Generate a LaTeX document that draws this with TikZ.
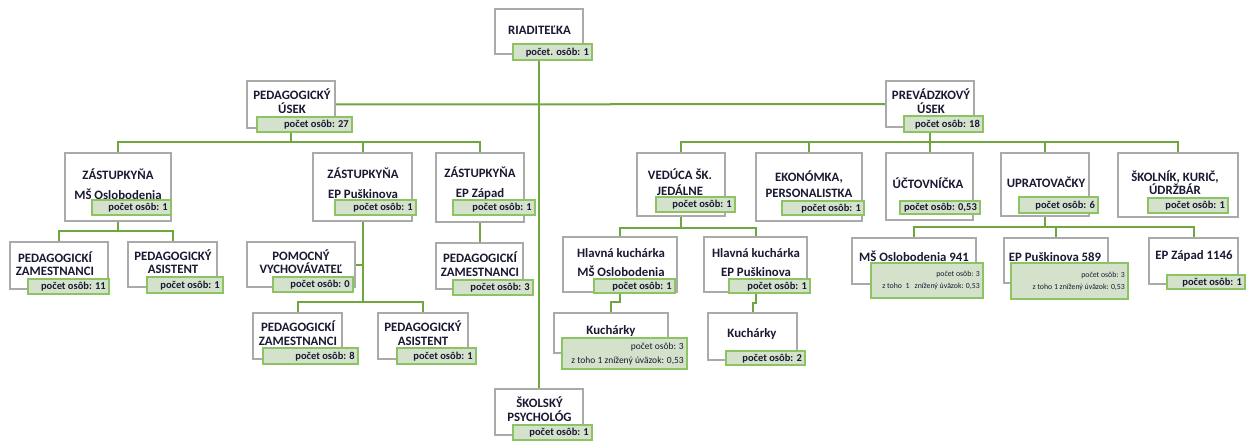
\documentclass[tikz,border=0pt]{standalone}
\usepackage{fontspec}
\setmainfont{Carlito}
\usetikzlibrary{backgrounds,shadows}
\definecolor{conn}{RGB}{112,166,62}
\definecolor{lblborder}{RGB}{140,196,100}
\definecolor{lblfill}{RGB}{212,226,204}
\definecolor{boxgray}{RGB}{170,170,170}
\definecolor{txt}{RGB}{25,25,50}
\tikzset{
  obox/.style={draw=boxgray, line width=1.3pt, fill=white, inner sep=0pt, outer sep=0pt,
    drop shadow={shadow xshift=1.2pt, shadow yshift=-1.2pt, fill=black!35, opacity=1}},
  otxt/.style={text=txt, align=center, inner sep=0pt},
  cntbox/.style={draw=lblborder, line width=1.2pt, fill=lblfill, inner sep=0pt, outer sep=0pt},
  cnttxt/.style={text=txt, inner sep=0pt, font=\fontsize{10.5}{12}\selectfont\bfseries, anchor=east},
  smalltxt/.style={text=txt, inner sep=0pt, align=right, anchor=east},
  conn/.style={draw=conn, line width=2pt}
}
% box: name, x1, y1, x2, y2
\newcommand\obox[5]{\node[obox, minimum width={(#4-#2)*1pt}, minimum height={(#5-#3)*1pt}] (#1) at ({(#2+#4)/2},{(#3+#5)/2}) {};}
% text: [baselineskip] name, x, y, text
\newcommand\otext[5][14]{\node[otxt, font=\fontsize{12.8}{#1}\selectfont\bfseries] (#2) at (#3,#4) {#5};}
% count label: name, x1, y1, x2, y2, text
\newcommand\cnt[6]{\node[cntbox, minimum width={(#4-#2)*1pt}, minimum height={(#5-#3)*1pt}] (#1) at ({(#2+#4)/2},{(#3+#5)/2}) {};
  \node[cnttxt] (#1-t) at ({#4-3},{(#3+#5)/2+0.5}) {#6};}
% two-line count label: [size] name, x1, y1, x2, y2, text, skip
\newcommand\cnttwo[8][9]{\node[cntbox, minimum width={(#5-#3)*1pt}, minimum height={(#6-#4)*1pt}] (#2) at ({(#3+#5)/2},{(#4+#6)/2}) {};
  \node[smalltxt, font=\fontsize{#1}{#8}\selectfont] (#2-t) at ({#5-3},{(#4+#6)/2}) {#7};}
\begin{document}
\begin{tikzpicture}[x=1pt,y=-1pt]
\useasboundingbox (0,0) rectangle (1246,441);
% top
\obox{riad}{495}{9}{583}{54}\otext{riad-x}{539.5}{30}{RIADITEĽKA}
\cnt{riad-c}{513}{44}{592}{60}{počet. osôb: 1}
\obox{ped}{247}{81}{335}{128}\otext{ped-x}{292}{101}{PEDAGOGICKÝ\\ÚSEK}
\cnt{ped-c}{257}{117}{352}{132}{počet osôb: 27}
\obox{prev}{886}{81}{974}{127}\otext{prev-x}{931}{101}{PREVÁDZKOVÝ\\ÚSEK}
\cnt{prev-c}{904}{116}{983}{132}{počet osôb: 18}
\obox{psych}{495}{389}{583}{435}\otext{psych-x}{539.5}{409.5}{ŠKOLSKÝ\\PSYCHOLÓG}
\cnt{psych-c}{513}{425}{592}{440}{počet osôb: 1}
% pedagogic branch
\obox{z1}{65}{153}{171}{221}\otext[20]{z1-x}{118}{184}{ZÁSTUPKYŇA\\MŠ Oslobodenia}
\cnt{z1-c}{92}{200}{171}{215}{počet osôb: 1}
\obox{z2}{313}{153}{412}{221}\otext[20]{z2-x}{363}{183.5}{ZÁSTUPKYŇA\\EP Puškinova}
\cnt{z2-c}{335}{200}{416}{215}{počet osôb: 1}
\obox{z3}{436}{153}{524}{222}\otext[20]{z3-x}{480}{183.5}{ZÁSTUPKYŇA\\EP Západ}
\cnt{z3-c}{453}{200}{535}{215}{počet osôb: 1}
\obox{pz1}{10}{242}{108}{289}\otext[13.5]{pz1-x}{55}{263.5}{PEDAGOGICKÍ\\ZAMESTNANCI}
\cnt{pz1-c}{28}{279}{109}{294}{počet osôb: 11}
\obox{pa1}{128}{242}{217}{287}\otext[13.5]{pa1-x}{173}{261.5}{PEDAGOGICKÝ\\ASISTENT}
\cnt{pa1-c}{147}{277}{223}{293}{počet osôb: 1}
\obox{pom}{247}{242}{355}{287}\otext[13.5]{pom-x}{301}{261.5}{POMOCNÝ\\VYCHOVÁVATEĽ}
\cnt{pom-c}{273}{277}{353}{292}{počet osôb: 0}
\obox{pz2}{436}{243}{523}{289}\otext[13.5]{pz2-x}{480}{264}{PEDAGOGICKÍ\\ZAMESTNANCI}
\cnt{pz2-c}{453}{280}{533}{295}{počet osôb: 3}
\obox{pz3}{253}{313}{342}{359}\otext[13.5]{pz3-x}{298}{333}{PEDAGOGICKÍ\\ZAMESTNANCI}
\cnt{pz3-c}{263}{348}{358}{364}{počet osôb: 8}
\obox{pa3}{378}{313}{468}{359}\otext[13.5]{pa3-x}{423}{333}{PEDAGOGICKÝ\\ASISTENT}
\cnt{pa3-c}{397}{348}{476}{364}{počet osôb: 1}
% operations branch
\obox{ved}{637}{153}{725}{216}\otext[16]{ved-x}{680}{182}{VEDÚCA ŠK.\\JEDÁLNE}
\cnt{ved-c}{656}{197}{735}{212}{počet osôb: 1}
\obox{eko}{756}{153}{862}{221}\otext[16]{eko-x}{809}{184}{EKONÓMKA,\\PERSONALISTKA}
\cnt{eko-c}{782}{201}{864}{215}{počet osôb: 1}
\obox{uct}{886}{153}{973}{220}\otext{uct-x}{928}{183}{ÚČTOVNÍČKA}
\cnt{uct-c}{900}{201}{980}{214}{počet osôb: 0,53}
\obox{upr}{1001}{153}{1089}{216}\otext{upr-x}{1046}{182}{UPRATOVAČKY}
\cnt{upr-c}{1019}{197}{1098}{213}{počet osôb: 6}
\obox{skol}{1118}{153}{1238}{217}\otext[13.5]{skol-x}{1175}{182.5}{ŠKOLNÍK, KURIČ,\\ÚDRŽBÁR}
\cnt{skol-c}{1148}{198}{1228}{213}{počet osôb: 1}
\obox{hk1}{563}{237}{677}{292}\otext[19]{hk1-x}{621}{262.5}{Hlavná kuchárka\\MŠ Oslobodenia}
\cnt{hk1-c}{594}{279}{675}{293}{počet osôb: 1}
\obox{hk2}{704}{237}{807}{292}\otext[19]{hk2-x}{756}{262.5}{Hlavná kuchárka\\EP Puškinova}
\cnt{hk2-c}{729}{279}{810}{293}{počet osôb: 1}
\obox{k1}{554}{313}{668}{353}\otext{k1-x}{611}{331}{Kuchárky}
\cnttwo[9.5]{k1-c}{562}{338}{687}{369}{počet osôb: 3\\z toho 1 znížený úväzok: 0,53}{14}
\obox{k2}{708}{313}{797}{360}\otext{k2-x}{752}{334}{Kuchárky}
\cnt{k2-c}{726}{351}{805}{365}{počet osôb: 2}
\obox{ms}{852}{238}{976}{284}\otext{ms-x}{914}{256}{MŠ Oslobodenia 941}
\cnttwo[7.8]{ms-c}{871}{263}{983}{298}{počet osôb: 3\\z toho\ \ 1\ \ \ znížený úväzok: 0,53}{12}
\obox{ep}{1004}{238}{1108}{283}\otext{ep-x}{1055}{257}{EP Puškinova 589}
\cnttwo[7.8]{ep-c}{1011}{263}{1128}{299}{počet osôb: 3\\z toho 1 znížený úväzok: 0,53}{12}
\obox{ez}{1149}{238}{1238}{284}\otext{ez-x}{1194}{256}{EP Západ 1146}
\cnt{ez-c}{1167}{275}{1245}{289}{počet osôb: 1}
% connectors
\begin{pgfonlayer}{background}
\fill[white] (0,0) rectangle (1246,441);
\coordinate (b1) at (0,142);
\coordinate (b2) at (0,231);
\coordinate (b3) at (0,302);
\coordinate (b5) at (0,228);
\coordinate (b6) at (0,227);
\draw[conn] (riad.south) -- (psych.north);
\draw[conn] (ped.east) -- (prev.west);
\draw[conn] (ped.south) -- (ped.south |- b1);
\draw[conn] (z1.north) -- (z1.north |- b1) -- (z3.north |- b1) -- (z3.north);
\draw[conn] (z2.north) -- (z2.north |- b1);
\draw[conn] (z1.south) -- (z1.south |- b2);
\draw[conn] (pz1.north) -- (pz1.north |- b2) -- (pa1.north |- b2) -- (pa1.north);
\draw[conn] (z2.south) -- (z2.south |- b3);
\draw[conn] (pom.east) -- (pom.east -| z2.south);
\draw[conn] (pz3.north) -- (pz3.north |- b3) -- (pa3.north |- b3) -- (pa3.north);
\draw[conn] (z3.south) -- (z3.south |- pz2.north);
\draw[conn] (prev.south) -- (prev.south |- b1);
\draw[conn] (ved.north) -- (ved.north |- b1) -- (skol.north |- b1) -- (skol.north);
\draw[conn] (eko.north) -- (eko.north |- b1);
\draw[conn] (uct.north) -- (uct.north |- b1);
\draw[conn] (upr.north) -- (upr.north |- b1);
\draw[conn] (ved.south) -- (ved.south |- b5);
\draw[conn] (hk1.north) -- (hk1.north |- b5) -- (hk2.north |- b5) -- (hk2.north);
\draw[conn] (hk1.south) -- ++(0,10) -| (k1.north);
\draw[conn] (hk2.south) -- ++(0,11) -| (k2.north);
\draw[conn] (upr.south) -- (upr.south |- b6);
\draw[conn] (ms.north) -- (ms.north |- b6) -- (ez.north |- b6) -- (ez.north);
\draw[conn] (ep.north) -- (ep.north |- b6);
\end{pgfonlayer}
\end{tikzpicture}
\end{document}
